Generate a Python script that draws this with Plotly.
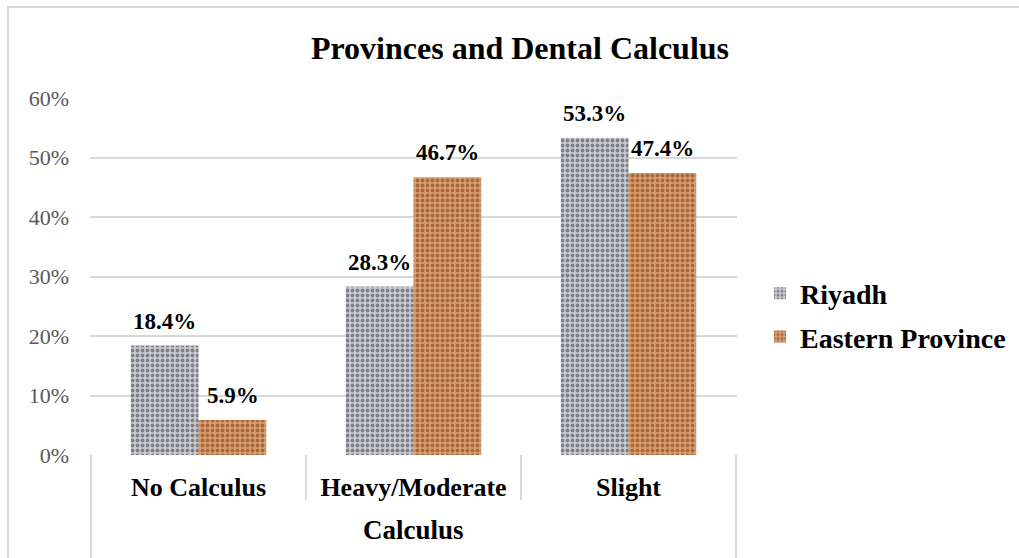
import plotly.graph_objects as go

categories = ["No Calculus", "Heavy/Moderate", "Slight"]
riyadh = [18.4, 28.3, 53.3]
eastern = [5.9, 46.7, 47.4]
series_names = ["Riyadh", "Eastern Province"]
y_ticks = [0, 10, 20, 30, 40, 50, 60]
y_tick_labels = ["0%", "10%", "20%", "30%", "40%", "50%", "60%"]

SERIF = "Times New Roman, Liberation Serif, serif"
GRID = "#d9d9d9"

fig = go.Figure()
fig.add_trace(go.Bar(
    name=series_names[0], x=categories, y=riyadh, legendgroup="a",
    marker=dict(color="#bfc1c5", line=dict(width=0),
                pattern=dict(shape=".", size=5, solidity=0.45,
                             fgcolor="#7d8086", bgcolor="#c9cbcf", fillmode="replace")),
))
fig.add_trace(go.Bar(
    name=series_names[1], x=categories, y=eastern, legendgroup="b",
    marker=dict(color="#cf9463", line=dict(width=0),
                pattern=dict(shape=".", size=5, solidity=0.45,
                             fgcolor="#a9673b", bgcolor="#d79f70", fillmode="replace")),
))

# data labels
for vals, shift in ((riyadh, -34), (eastern, 34)):
    for c, v in zip(categories, vals):
        fig.add_annotation(x=c, y=v, text=f"{v:.1f}%", showarrow=False,
                           xshift=shift, yshift=10, yanchor="bottom",
                           font=dict(family=SERIF, size=23, color="black", weight="bold"))

# axis title
fig.add_annotation(x=0.5, y=-0.21, xref="paper", yref="paper", text="Calculus",
                   showarrow=False, yanchor="middle",
                   font=dict(family=SERIF, size=27, color="black", weight="bold"))

plot_h = 357
shapes = []
for b, depth in ((-0.5, 103), (0.5, 45), (1.5, 45), (2.5, 103)):
    shapes.append(dict(type="line", xref="x", yref="paper", x0=b, x1=b,
                       y0=0, y1=-depth / plot_h, line=dict(color=GRID, width=2)))
# outer chart border
shapes.append(dict(type="rect", xref="paper", yref="paper",
                   x0=(8 - 90) / 647, x1=1.6, y0=-0.5, y1=(455 - 7) / plot_h,
                   line=dict(color=GRID, width=2), layer="below"))

fig.update_layout(
    width=1019, height=558,
    margin=dict(l=90, r=282, t=98, b=103, autoexpand=False),
    paper_bgcolor="white", plot_bgcolor="white",
    barmode="group", bargap=0.37, bargroupgap=0,
    title=dict(text="Provinces and Dental Calculus", x=520 / 1019, xanchor="center",
               y=1 - 48 / 558, yanchor="middle",
               font=dict(family=SERIF, size=32, color="black", weight="bold")),
    legend=dict(x=(760 - 90) / 647, y=(455 - 315) / plot_h, xanchor="left", yanchor="middle",
                font=dict(family=SERIF, size=28, color="black", weight="bold"),
                tracegroupgap=4, itemwidth=30, bgcolor="rgba(0,0,0,0)"),
    shapes=shapes,
    showlegend=True,
)
fig.update_xaxes(showgrid=False, showline=False, ticks="",
                 tickfont=dict(family=SERIF, size=26, color="black", weight="bold"),
                 ticklabelstandoff=14)
fig.update_yaxes(range=[0, 60], tickvals=y_ticks, ticktext=y_tick_labels,
                 showgrid=True, gridcolor=GRID, gridwidth=2, zeroline=False,
                 showline=False, ticks="",
                 tickfont=dict(family=SERIF, size=22, color="#595959"),
                 ticklabelstandoff=20)

fig.write_html("out.html")
